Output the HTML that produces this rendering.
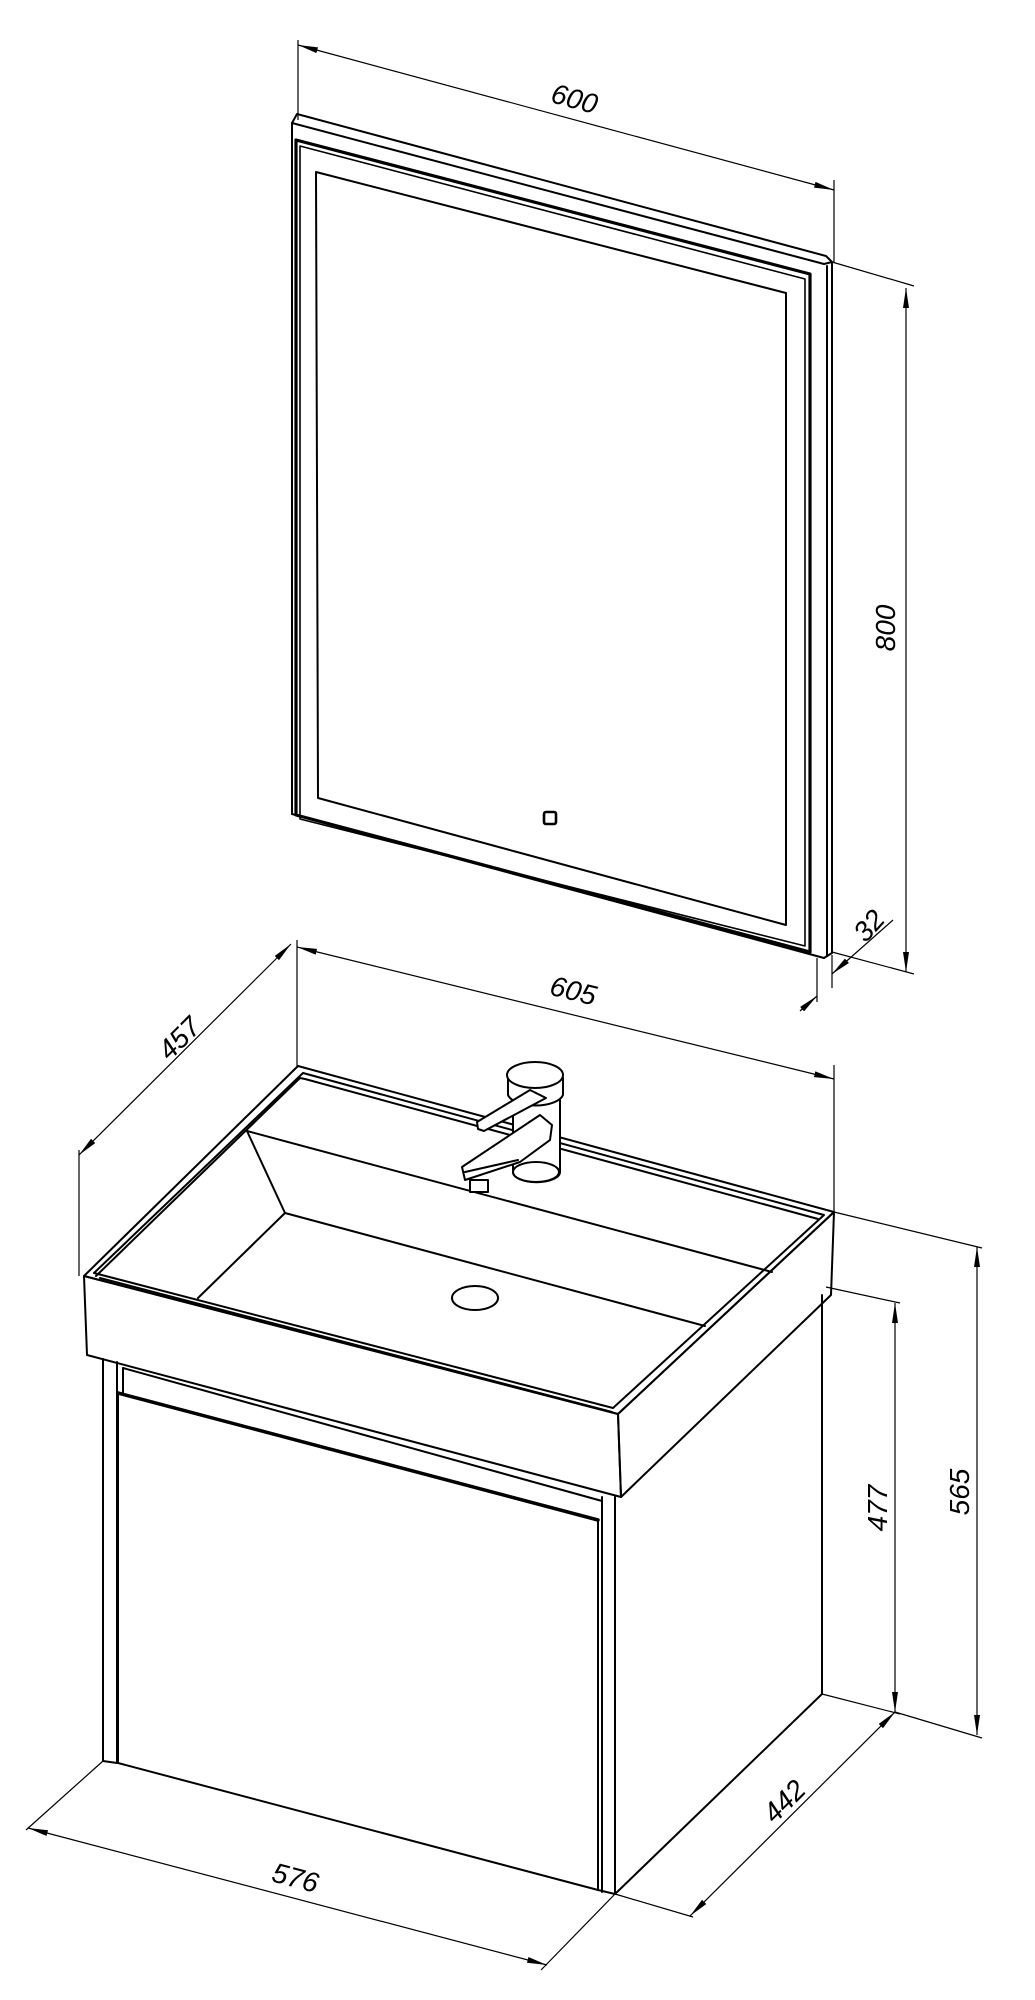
<!DOCTYPE html>
<html><head><meta charset="utf-8"><style>
html,body{margin:0;padding:0;background:#fff}
svg{display:block}
text{font-family:"Liberation Sans",sans-serif;font-size:28px;font-style:italic;fill:#000}
</style></head><body>
<svg width="1035" height="2000" viewBox="0 0 1035 2000" xmlns="http://www.w3.org/2000/svg">
<defs>
<marker id="a" viewBox="0 0 20 6" refX="20" refY="3" markerWidth="20" markerHeight="6" markerUnits="userSpaceOnUse" orient="auto-start-reverse"><path d="M0,0 L20,3 L0,6 z" fill="#000"/></marker>
</defs>
<g fill="none" stroke="#000" stroke-linejoin="round" stroke-linecap="round">
<!-- MIRROR -->
<g stroke-width="2">
<polyline points="292,123 297,114 826,256 832,262"/>
<line x1="292" y1="123" x2="824" y2="264"/>
<line x1="824" y1="264" x2="832" y2="262"/>
<line x1="292" y1="123" x2="292" y2="814"/>
<line x1="292" y1="814" x2="824" y2="958"/>
<line x1="832" y1="262" x2="832" y2="953"/>
<line x1="827" y1="266" x2="827" y2="956"/>
<line x1="824" y1="958" x2="832" y2="953"/>
</g>
<polygon points="296,140 810,274 810,952 296,815" stroke-width="3.2"/>
<polygon points="300,146 805,279 805,946 300,819" stroke-width="1.6"/>
<polygon points="316,172 786,293 786,925 318,798" stroke-width="2"/>
<rect x="544" y="812" width="12" height="12" rx="2" stroke-width="2.6"/>

<!-- BASIN -->
<g stroke-width="2">
<polygon points="298,1066 834,1212 618,1414 84,1276"/>
<polygon points="84,1276 618,1414 621,1497 87,1355"/>
<polygon points="618,1414 834,1212 831,1295 621,1497"/>
<polygon points="303,1073 824,1215 613,1408 94,1273"/>
<polyline points="96,1276 300,1078 305,1079 818,1219"/>
<line x1="100" y1="1278" x2="612" y2="1412"/>
<line x1="247" y1="1131" x2="772" y2="1272"/>
<line x1="247" y1="1131" x2="285" y2="1213"/>
<line x1="285" y1="1213" x2="705" y2="1326"/>
<line x1="285" y1="1213" x2="198" y2="1298"/>
<ellipse cx="475" cy="1298" rx="23" ry="12"/>
</g>
<!-- FAUCET -->
<g stroke-width="2" fill="#fff">
<path d="M513,1172 L513,1100 L560,1100 L560,1172 A23,10 0 0 1 513,1172 Z"/>
<ellipse cx="536" cy="1172" rx="23" ry="10"/>
<path d="M508,1078 L508,1095 A28,13 0 0 0 563,1095 L563,1078 Z"/>
<ellipse cx="535" cy="1075" rx="28" ry="13"/>
<polygon points="477,1122 530,1090 546,1098 484,1131 478,1129"/>
<polygon points="470,1180 488,1180 488,1192 470,1192"/>
<polygon points="462,1167 540,1115 552,1125 550,1140 520,1162 465,1180"/>
<line x1="465" y1="1172" x2="518" y2="1160"/>
</g>

<!-- CABINET -->
<g stroke-width="2">
<line x1="103" y1="1359" x2="103" y2="1761"/>
<line x1="117" y1="1362" x2="117" y2="1763"/>
<line x1="103" y1="1761" x2="117" y2="1763"/>
<line x1="123" y1="1368" x2="123" y2="1393"/>
<line x1="123" y1="1368" x2="602" y2="1501"/>
<line x1="118" y1="1393" x2="118" y2="1763"/>
<line x1="118" y1="1763" x2="598" y2="1890"/>
<line x1="598" y1="1520" x2="598" y2="1890"/>
<line x1="602" y1="1497" x2="602" y2="1892"/>
<line x1="615" y1="1497" x2="615" y2="1894"/>
<line x1="598" y1="1890" x2="615" y2="1894"/>
<line x1="822" y1="1295" x2="822" y2="1694"/>
<line x1="615" y1="1894" x2="822" y2="1694"/>
</g>
<line x1="118" y1="1393" x2="598" y2="1520" stroke-width="3.5"/>
</g>

<!-- DIMENSIONS -->
<g fill="none" stroke="#000" stroke-width="1.2">
<line x1="298" y1="40" x2="298" y2="120"/>
<line x1="834" y1="180" x2="834" y2="262"/>
<line x1="298" y1="45" x2="834" y2="190" marker-start="url(#a)" marker-end="url(#a)"/>
<line x1="832" y1="262" x2="914" y2="286"/>
<line x1="832" y1="952" x2="914" y2="974"/>
<line x1="906" y1="288" x2="906" y2="972" marker-start="url(#a)" marker-end="url(#a)"/>
<line x1="817" y1="958" x2="817" y2="1002"/>
<line x1="832" y1="955" x2="832" y2="988"/>
<line x1="893" y1="920" x2="832" y2="974" marker-end="url(#a)"/>
<line x1="800" y1="1011" x2="817" y2="996" marker-end="url(#a)"/>
<line x1="297" y1="940" x2="297" y2="1066"/>
<line x1="834" y1="1065" x2="834" y2="1212"/>
<line x1="297" y1="947" x2="834" y2="1079" marker-start="url(#a)" marker-end="url(#a)"/>
<line x1="79" y1="1150" x2="79" y2="1276"/>
<line x1="291" y1="944" x2="79" y2="1155" marker-start="url(#a)" marker-end="url(#a)"/>
<line x1="826" y1="1287" x2="900" y2="1303"/>
<line x1="822" y1="1694" x2="900" y2="1714"/>
<line x1="895" y1="1303" x2="895" y2="1712" marker-start="url(#a)" marker-end="url(#a)"/>
<line x1="834" y1="1212" x2="982" y2="1248"/>
<line x1="895" y1="1712" x2="982" y2="1738"/>
<line x1="977" y1="1247" x2="977" y2="1735" marker-start="url(#a)" marker-end="url(#a)"/>
<line x1="615" y1="1894" x2="693" y2="1917"/>
<line x1="895" y1="1712" x2="690" y2="1916" marker-start="url(#a)" marker-end="url(#a)"/>
<line x1="103" y1="1761" x2="26" y2="1830"/>
<line x1="615" y1="1894" x2="541" y2="1970"/>
<line x1="28" y1="1828" x2="547" y2="1965" marker-start="url(#a)" marker-end="url(#a)"/>
</g>

<text x="0" y="0" text-anchor="middle" transform="translate(572,108) rotate(15.2)">600</text>
<text x="0" y="0" text-anchor="middle" transform="translate(895,628) rotate(-90)">800</text>
<text x="0" y="0" text-anchor="middle" transform="translate(876,932) rotate(-48)">32</text>
<text x="0" y="0" text-anchor="middle" transform="translate(571,1000) rotate(13.8)">605</text>
<text x="0" y="0" text-anchor="middle" transform="translate(186,1045) rotate(-45)">457</text>
<text x="0" y="0" text-anchor="middle" transform="translate(887,1508) rotate(-90)">477</text>
<text x="0" y="0" text-anchor="middle" transform="translate(969,1492) rotate(-90)">565</text>
<text x="0" y="0" text-anchor="middle" transform="translate(791,1808) rotate(-45)">442</text>
<text x="0" y="0" text-anchor="middle" transform="translate(293,1887) rotate(14.8)">576</text>
</svg>
</body></html>
